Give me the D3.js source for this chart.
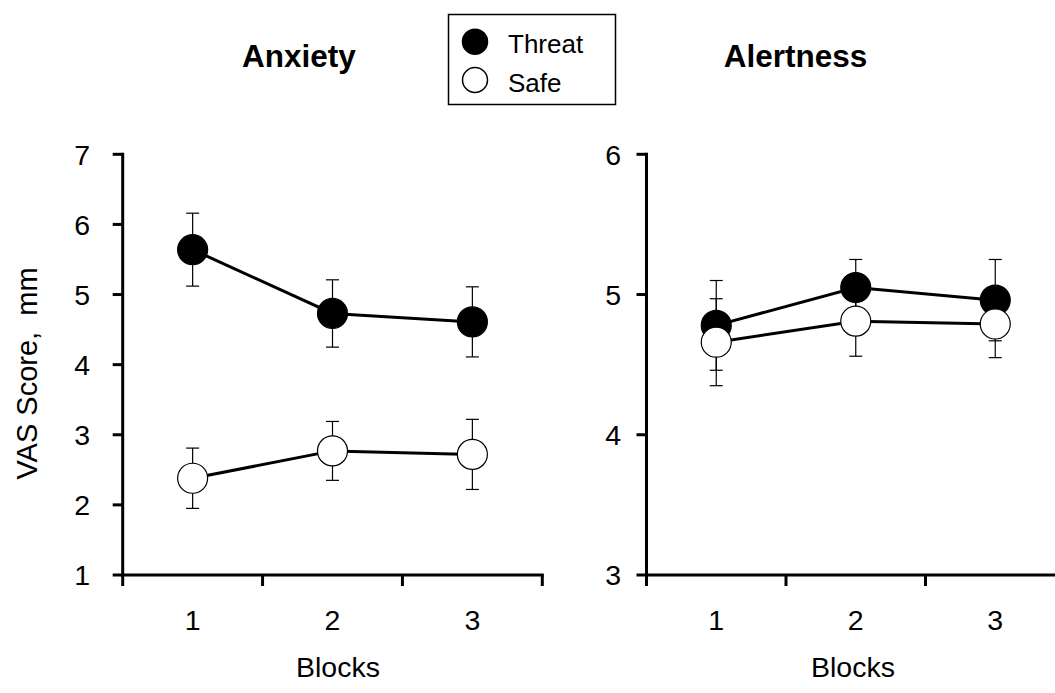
<!DOCTYPE html>
<html>
<head>
<meta charset="utf-8">
<script src="https://cdn.jsdelivr.net/npm/d3@7"></script>
<style>
  html, body { margin: 0; padding: 0; background: #fff; }
  svg { display: block; font-family: Arial, "Liberation Sans", sans-serif; }
</style>
</head>
<body>
<svg id="chart" width="1055" height="693"></svg>
<script>
// ---- data ----
const blocks = [1, 2, 3];
const seriesNames = ["Threat", "Safe"];
const anxietyThreat = [5.64, 4.73, 4.61];
const anxietyThreatErr = [0.52, 0.48, 0.50];
const anxietySafe = [2.38, 2.77, 2.72];
const anxietySafeErr = [0.43, 0.42, 0.50];
const alertThreat = [4.78, 5.05, 4.96];
const alertThreatErr = [0.32, 0.20, 0.29];
const alertSafe = [4.66, 4.81, 4.79];
const alertSafeErr = [0.31, 0.25, 0.24];
const anxietyTicks = [1, 2, 3, 4, 5, 6, 7];
const alertTicks = [3, 4, 5, 6];
const xBoundaryTicks = [0.5, 1.5, 2.5, 3.5];

const svg = d3.select("#chart");

const panels = [
  { title: "Anxiety", titleX: 299, xRange: [122.7, 542.3], yDomain: [1, 7], yTicks: anxietyTicks,
    labelX: 90, blocksX: 338,
    series: [
      { name: "Threat", vals: anxietyThreat, err: anxietyThreatErr, fill: "#000" },
      { name: "Safe", vals: anxietySafe, err: anxietySafeErr, fill: "#fff" }
    ] },
  { title: "Alertness", titleX: 795.5, xRange: [646.5, 1065], yDomain: [3, 6], yTicks: alertTicks,
    labelX: 621, blocksX: 853,
    series: [
      { name: "Threat", vals: alertThreat, err: alertThreatErr, fill: "#000" },
      { name: "Safe", vals: alertSafe, err: alertSafeErr, fill: "#fff" }
    ] }
];

const yTop = 154.3, yBottom = 575;
const tickFont = 28.5;

panels.forEach(p => {
  const x = d3.scaleLinear().domain([0.5, 3.5]).range(p.xRange);
  const y = d3.scaleLinear().domain(p.yDomain).range([yBottom, yTop]);
  const g = svg.append("g");

  // title
  g.append("text").attr("x", p.titleX).attr("y", 67)
    .attr("text-anchor", "middle").attr("font-weight", "bold")
    .attr("font-size", 31.5).text(p.title);

  // y axis line + ticks
  g.append("line").attr("x1", x(0.5)).attr("x2", x(0.5))
    .attr("y1", y(p.yDomain[0]) + 1.5).attr("y2", y(p.yDomain[1]) - 1.5)
    .attr("stroke", "#000").attr("stroke-width", 3);
  p.yTicks.forEach(t => {
    g.append("line").attr("x1", x(0.5) - 10).attr("x2", x(0.5))
      .attr("y1", y(t)).attr("y2", y(t))
      .attr("stroke", "#000").attr("stroke-width", 3);
    g.append("text").attr("x", p.labelX).attr("y", y(t) + 10.2)
      .attr("text-anchor", "end").attr("font-size", tickFont).text(t);
  });

  // x axis line + ticks
  g.append("line").attr("x1", x(0.5) - 1.5).attr("x2", x(3.5) + 1.5)
    .attr("y1", yBottom).attr("y2", yBottom)
    .attr("stroke", "#000").attr("stroke-width", 3);
  xBoundaryTicks.forEach(t => {
    g.append("line").attr("x1", x(t)).attr("x2", x(t))
      .attr("y1", yBottom).attr("y2", yBottom + 11)
      .attr("stroke", "#000").attr("stroke-width", 3);
  });
  blocks.forEach(b => {
    g.append("text").attr("x", x(b)).attr("y", 630)
      .attr("text-anchor", "middle").attr("font-size", tickFont).text(b);
  });
  g.append("text").attr("x", p.blocksX).attr("y", 676.5)
    .attr("text-anchor", "middle").attr("font-size", tickFont).text("Blocks");

  const line = d3.line().x((d, i) => x(blocks[i])).y(d => y(d));

  p.series.forEach(s => {
    const sg = g.append("g");
    sg.append("path").datum(s.vals).attr("d", line)
      .attr("fill", "none").attr("stroke", "#000").attr("stroke-width", 3);
    s.vals.forEach((v, i) => {
      const cx = x(blocks[i]);
      const hi = y(v + s.err[i]), lo = y(v - s.err[i]);
      sg.append("line").attr("x1", cx).attr("x2", cx).attr("y1", hi).attr("y2", lo)
        .attr("stroke", "#000").attr("stroke-width", 1.2);
      [hi, lo].forEach(yy => {
        sg.append("line").attr("x1", cx - 6.5).attr("x2", cx + 6.5).attr("y1", yy).attr("y2", yy)
          .attr("stroke", "#000").attr("stroke-width", 1.2);
      });
    });
    sg.selectAll("circle.pt").data(s.vals).enter().append("circle")
      .attr("cx", (d, i) => x(blocks[i])).attr("cy", d => y(d)).attr("r", 15)
      .attr("fill", s.fill).attr("stroke", "#000").attr("stroke-width", 1.2);
  });
});

// y axis title
svg.append("text")
  .attr("transform", "translate(37,373.5) rotate(-90)")
  .attr("text-anchor", "middle").attr("font-size", 29)
  .attr("xml:space", "preserve").style("white-space", "pre")
  .text("VAS Score,  mm");

// legend
const legend = svg.append("g");
legend.append("rect").attr("x", 448.5).attr("y", 14.5).attr("width", 167).attr("height", 90)
  .attr("fill", "#fff").attr("stroke", "#000").attr("stroke-width", 1.5);
const legendFills = ["#000", "#fff"];
const legendY = [41.7, 80];
seriesNames.forEach((n, i) => {
  legend.append("circle").attr("cx", 475).attr("cy", legendY[i]).attr("r", 12.5)
    .attr("fill", legendFills[i]).attr("stroke", "#000").attr("stroke-width", 1.5);
  legend.append("text").attr("x", 508).attr("y", legendY[i] + 11.5)
    .attr("font-size", 26).text(n);
});
</script>
</body>
</html>
